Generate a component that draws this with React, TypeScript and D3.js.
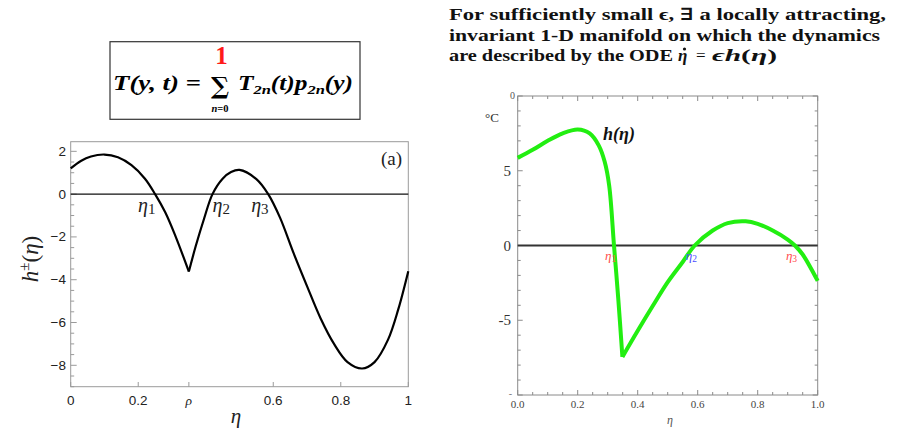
import React from 'react'
import * as d3 from 'd3'

// left panel h±(eta), split at the cusp rho
const leftEta1 = [0, 0.03, 0.06, 0.1, 0.14, 0.18, 0.22, 0.25, 0.28, 0.31, 0.35]
const leftH1 = [1.2, 1.55, 1.76, 1.85, 1.72, 1.35, 0.72, 0.0, -0.85, -1.95, -3.62]
const leftEta2 = [0.35, 0.37, 0.395, 0.42, 0.45, 0.475, 0.5, 0.55, 0.585, 0.62, 0.66, 0.7, 0.74, 0.78, 0.82, 0.863, 0.9, 0.94, 0.97, 1.0]
const leftH2 = [-3.62, -2.45, -1.15, 0.0, 0.72, 1.03, 1.13, 0.7, 0.0, -1.1, -2.75, -4.3, -5.8, -7.0, -7.85, -8.15, -7.85, -6.8, -5.4, -3.6]
const leftXTicks = [0, 0.2, 0.35, 0.6, 0.8, 1]
const leftXLabels = ['0', '0.2', 'ρ', '0.6', '0.8', '1']
const leftYTicks = [2, 0, -2, -4, -6, -8]
const leftRoots = [0.25, 0.42, 0.585]
const leftRootNames = ['1', '2', '3']

// right panel h(eta), split at the kink
const rightEta1 = [0, 0.05, 0.1, 0.15, 0.2, 0.24, 0.27, 0.29, 0.305, 0.321, 0.335, 0.349]
const rightH1 = [5.86, 6.4, 7.0, 7.5, 7.76, 7.5, 6.7, 5.6, 4.0, 0.0, -3.5, -7.45]
const rightEta2 = [0.349, 0.4, 0.45, 0.5, 0.55, 0.59, 0.65, 0.7, 0.76, 0.8, 0.85, 0.9, 0.924, 0.95, 1.0]
const rightH2 = [-7.45, -5.7, -4.05, -2.45, -1.1, 0.0, 1.0, 1.5, 1.62, 1.45, 1.0, 0.4, 0.0, -0.6, -2.37]
const rightXTicks = [0, 0.2, 0.4, 0.6, 0.8, 1.0]
const rightYTicks = [-5, 0, 5]
const rightRoots = [0.321, 0.59, 0.924]
const rightRootNames = ['1', '2', '3']
const rightRootColors = ['#ff4d4d', '#4d4dff', '#ff4d4d']

const serif = '"Liberation Serif", "DejaVu Serif", serif'
const sans = '"Liberation Sans", Arial, sans-serif'

export default function App() {
  // left panel scales
  const lx = d3.scaleLinear().domain([0, 1]).range([70.7, 408.3])
  const ly = d3.scaleLinear().domain([-9, 2.45]).range([386.7, 141.7])
  const lline = d3
    .line<[number, number]>()
    .x((d) => lx(d[0]))
    .y((d) => ly(d[1]))
    .curve(d3.curveCatmullRom)
  const lseg1 = lline(leftEta1.map((e, i) => [e, leftH1[i]]))
  const lseg2 = lline(leftEta2.map((e, i) => [e, leftH2[i]]))
  const lMinor = d3.range(-9, 2.01, 0.5)
  const lRootDx = [-17, 0, -17] // label offsets from the crossing

  // right panel scales
  const rx = d3.scaleLinear().domain([0, 1]).range([517.7, 817.7])
  const ry = d3.scaleLinear().domain([-10, 10]).range([395, 96])
  const rline = d3
    .line<[number, number]>()
    .x((d) => rx(d[0]))
    .y((d) => ry(d[1]))
    .curve(d3.curveCatmullRom)
  const rseg1 = rline(rightEta1.map((e, i) => [e, rightH1[i]]))
  const rseg2 = rline(rightEta2.map((e, i) => [e, rightH2[i]]))
  const rxMinor = d3.range(0, 1.001, 0.05)
  const ryMinor = d3.range(-10, 10.01, 1)

  return (
    <svg width={901} height={430} style={{ position: 'absolute', left: 0, top: 0, background: '#fff' }}>
      {/* formula box */}
      <rect x={110} y={41.7} width={250} height={77.6} fill="none" stroke="#333" strokeWidth={1.2} />
      <text x={113} y={90} fontFamily={serif} fontWeight="bold" fontStyle="italic" fontSize={20} textLength={88} lengthAdjust="spacingAndGlyphs">
        T(y, t) <tspan fontStyle="normal">=</tspan>
      </text>
      <text x={220} y={94} textAnchor="middle" fontFamily='"DejaVu Serif", serif' fontWeight="bold" fontSize={24}>∑</text>
      <text x={221.5} y={64} textAnchor="middle" fontFamily={serif} fontWeight="bold" fontSize={25} fill="#ff1a1a">1</text>
      <text x={220} y={112} textAnchor="middle" fontFamily={serif} fontWeight="bold" fontStyle="italic" fontSize={10.5}>
        n<tspan fontStyle="normal">=0</tspan>
      </text>
      <text x={238} y={90} fontFamily={serif} fontWeight="bold" fontStyle="italic" fontSize={20} textLength={115} lengthAdjust="spacingAndGlyphs">
        T<tspan fontSize={13} dy={4}>2n</tspan>
        <tspan dy={-4}>(t)p</tspan>
        <tspan fontSize={13} dy={4}>2n</tspan>
        <tspan dy={-4}>(y)</tspan>
      </text>

      {/* statement text */}
      <g fontFamily={serif} fontWeight="bold" fontSize={17} fill="#111">
        <text x={449} y={20} textLength={437} lengthAdjust="spacingAndGlyphs">
          For sufficiently small ϵ, ∃ a locally attracting,
        </text>
        <text x={449} y={40.5} textLength={431} lengthAdjust="spacingAndGlyphs">
          invariant 1-D manifold on which the dynamics
        </text>
        <text x={449} y={61} textLength={224} lengthAdjust="spacingAndGlyphs">
          are described by the ODE
        </text>
        <text x={678} y={61} fontStyle="italic">η</text>
        <text x={696} y={61} fontWeight="normal">=</text>
        <text x={712} y={61} fontStyle="italic" textLength={65} lengthAdjust="spacingAndGlyphs">
          ϵh<tspan fontStyle="normal">(</tspan>η<tspan fontStyle="normal">)</tspan>
        </text>
      </g>
      <circle cx={684.5} cy={49} r={1.6} fill="#111" />

      {/* left panel */}
      <rect x={70.7} y={141.7} width={337.6} height={245} fill="none" stroke="#9a9a9a" strokeWidth={1} />
      {lMinor.map((v) => {
        const major = leftYTicks.includes(v)
        return (
          <line key={'lm' + v} x1={70.7} x2={70.7 + (major ? 6 : 3.5)} y1={ly(v)} y2={ly(v)} stroke="#9a9a9a" />
        )
      })}
      {leftXTicks.map((v) => (
        <line key={'lxt' + v} x1={lx(v)} x2={lx(v)} y1={386.7} y2={382} stroke="#9a9a9a" />
      ))}
      {leftYTicks.map((v) => (
        <text key={'lyl' + v} x={66} y={ly(v) + 4.5} textAnchor="end" fontFamily={sans} fontSize={13.5} fill="#222">
          {v < 0 ? '−' + Math.abs(v) : String(v)}
        </text>
      ))}
      {leftXTicks.map((v, i) => (
        <text
          key={'lxl' + v}
          x={lx(v)}
          y={405}
          textAnchor="middle"
          fontFamily={leftXLabels[i] === 'ρ' ? serif : sans}
          fontStyle={leftXLabels[i] === 'ρ' ? 'italic' : 'normal'}
          fontSize={13.5}
          fill="#222"
        >
          {leftXLabels[i]}
        </text>
      ))}
      <line x1={70.7} x2={408.3} y1={ly(0)} y2={ly(0)} stroke="#111" strokeWidth={1.4} />
      <path d={lseg1 ?? ''} fill="none" stroke="#000" strokeWidth={2.2} />
      <path d={lseg2 ?? ''} fill="none" stroke="#000" strokeWidth={2.2} />
      {leftRoots.map((r, i) => (
        <text key={'lr' + i} x={lx(r) + lRootDx[i]} y={212} fontFamily={serif} fontSize={20} fill="#222">
          <tspan fontStyle="italic">η</tspan>
          <tspan fontSize={15} dy={2}>{leftRootNames[i]}</tspan>
        </text>
      ))}
      <text x={402} y={165} textAnchor="end" fontFamily={serif} fontSize={19} fill="#222">(a)</text>
      <text x={236} y={423} textAnchor="middle" fontFamily={serif} fontStyle="italic" fontSize={21} fill="#222">η</text>
      <text transform="translate(38,259) rotate(-90)" textAnchor="middle" fontFamily={serif} fontSize={23} fill="#222">
        <tspan fontStyle="italic">h</tspan>
        <tspan fontSize={15} dy={-9}>±</tspan>
        <tspan dy={9}>(</tspan>
        <tspan fontStyle="italic">η</tspan>
        <tspan>)</tspan>
      </text>

      {/* right panel */}
      <rect x={517.7} y={96} width={300} height={299} fill="none" stroke="#8a8a8a" strokeWidth={1} />
      {rxMinor.map((v) => {
        const major = Math.abs(v * 5 - Math.round(v * 5)) < 1e-6
        const len = major ? 5 : 3
        return (
          <g key={'rxm' + v} stroke="#8a8a8a">
            <line x1={rx(v)} x2={rx(v)} y1={395} y2={395 - len} />
            <line x1={rx(v)} x2={rx(v)} y1={96} y2={96 + len} />
          </g>
        )
      })}
      {ryMinor.map((v) => {
        const major = Math.round(v) % 5 === 0
        const len = major ? 5 : 3
        return (
          <g key={'rym' + v} stroke="#8a8a8a">
            <line x1={517.7} x2={517.7 + len} y1={ry(v)} y2={ry(v)} />
            <line x1={817.7} x2={817.7 - len} y1={ry(v)} y2={ry(v)} />
          </g>
        )
      })}
      {rightYTicks.map((v) => (
        <text key={'ryl' + v} x={511} y={ry(v) + 5} textAnchor="end" fontFamily={serif} fontSize={15} fill="#333">
          {String(v)}
        </text>
      ))}
      <text x={515} y={99} textAnchor="end" fontFamily={serif} fontSize={10} fill="#555">0</text>
      <text x={512} y={397} textAnchor="end" fontFamily={serif} fontSize={10} fill="#777">-</text>
      {rightXTicks.map((v) => (
        <text key={'rxl' + v} x={rx(v)} y={408} textAnchor="middle" fontFamily={serif} fontSize={11} fill="#444">
          {v.toFixed(1)}
        </text>
      ))}
      <text x={670} y={424} textAnchor="middle" fontFamily={serif} fontStyle="italic" fontSize={12} fill="#555">η</text>
      <text x={485} y={122} fontFamily={serif} fontSize={13} fill="#333">°C</text>
      <line x1={517.7} x2={817.7} y1={ry(0)} y2={ry(0)} stroke="#333" strokeWidth={2} />
      <path d={rseg1 ?? ''} fill="none" stroke="#22ee11" strokeWidth={4} strokeLinejoin="miter" />
      <path d={rseg2 ?? ''} fill="none" stroke="#22ee11" strokeWidth={4} strokeLinejoin="miter" />
      {rightRoots.map((r, i) => (
        <text key={'rr' + i} x={rx(r) - 9} y={260} fontFamily={serif} fontSize={13} fill={rightRootColors[i]}>
          <tspan fontStyle="italic">η</tspan>
          <tspan fontSize={9.5} dy={2}>{rightRootNames[i]}</tspan>
        </text>
      ))}
      <text x={603} y={140} fontFamily={serif} fontWeight="bold" fontStyle="italic" fontSize={18} fill="#111">
        h(η)
      </text>
    </svg>
  )
}
